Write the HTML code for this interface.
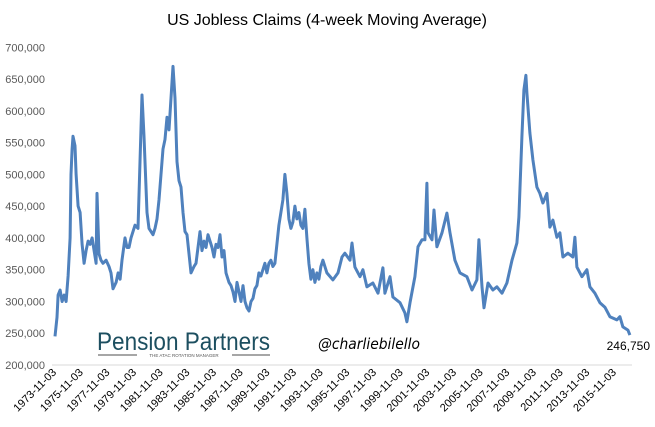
<!DOCTYPE html>
<html><head><meta charset="utf-8"><style>
body{margin:0;background:#fff;}
svg{display:block;font-family:"Liberation Sans",sans-serif;}
</style></head><body>
<svg width="655" height="427">
<text x="327" y="25" text-anchor="middle" font-size="16" fill="#000">US Jobless Claims (4-week Moving Average)</text>
<g id="yaxis"></g>
<g id="xaxis"></g>
<line x1="52" x2="632" y1="365" y2="365" stroke="#d9d9d9" stroke-width="1"/>
<path id="series" fill="none" stroke="#4F81BD" stroke-width="3" stroke-linejoin="round"/>
<g>
<text x="97" y="350" font-size="25" fill="#1d4f60" textLength="173" lengthAdjust="spacingAndGlyphs">Pension Partners</text>
<line x1="98" x2="137" y1="355" y2="355" stroke="#888" stroke-width="1.5"/>
<line x1="232" x2="270" y1="355" y2="355" stroke="#888" stroke-width="1.5"/>
<text x="184" y="357" font-size="4.5" text-anchor="middle" fill="#555">THE ATAC ROTATION MANAGER</text>
</g>
<text x="318" y="349" font-size="15" font-style="italic" fill="#000" font-family="'DejaVu Sans',sans-serif" textLength="102" lengthAdjust="spacingAndGlyphs">@charliebilello</text>
<text x="650" y="350" font-size="12" text-anchor="end" fill="#000">246,750</text>
</svg>
<script>
const years=[1973.84,1973.99,1974.07,1974.22,1974.37,1974.52,1974.67,1974.82,1974.97,1975.04,1975.12,1975.19,1975.34,1975.42,1975.57,1975.72,1975.87,1976.02,1976.17,1976.32,1976.47,1976.62,1976.77,1976.92,1976.99,1977.14,1977.29,1977.44,1977.67,1977.89,1978.04,1978.19,1978.42,1978.57,1978.72,1978.87,1979.09,1979.24,1979.39,1979.54,1979.69,1979.84,1980.07,1980.22,1980.37,1980.52,1980.67,1980.74,1980.89,1981.04,1981.19,1981.34,1981.49,1981.64,1981.79,1981.94,1982.09,1982.24,1982.39,1982.54,1982.69,1982.84,1982.99,1983.14,1983.29,1983.44,1983.59,1983.74,1983.89,1984.04,1984.27,1984.42,1984.57,1984.72,1984.87,1985.02,1985.17,1985.32,1985.47,1985.62,1985.77,1985.92,1986.07,1986.22,1986.37,1986.52,1986.67,1986.89,1987.04,1987.19,1987.34,1987.49,1987.64,1987.79,1987.94,1988.09,1988.24,1988.39,1988.54,1988.69,1988.84,1988.99,1989.14,1989.29,1989.44,1989.59,1989.74,1989.89,1990.04,1990.19,1990.34,1990.49,1990.64,1990.79,1990.94,1991.09,1991.24,1991.39,1991.54,1991.69,1991.84,1991.99,1992.14,1992.29,1992.44,1992.59,1992.74,1992.89,1993.04,1993.19,1993.34,1993.49,1993.64,1993.79,1993.94,1994.24,1994.69,1995.07,1995.37,1995.59,1995.97,1996.12,1996.34,1996.72,1996.94,1997.24,1997.69,1998.07,1998.44,1998.59,1998.97,1999.19,1999.72,2000.09,2000.24,2000.47,2000.84,2001.07,2001.37,2001.59,2001.74,2001.82,2002.12,2002.27,2002.49,2002.87,2003.24,2003.47,2003.84,2004.22,2004.74,2005.12,2005.49,2005.64,2005.87,2006.02,2006.32,2006.69,2006.99,2007.37,2007.74,2008.12,2008.49,2008.64,2008.87,2009.02,2009.17,2009.24,2009.47,2009.69,2009.99,2010.22,2010.44,2010.74,2010.97,2011.19,2011.49,2011.72,2011.94,2012.32,2012.69,2012.84,2012.99,2013.37,2013.74,2013.97,2014.34,2014.72,2015.09,2015.47,2015.99,2016.22,2016.44,2016.82,2016.97];
const claims=[245,275,310,318,300,310,300,340,400,500,540,560,545,500,450,440,390,360,380,395,390,400,380,360,470,375,365,360,365,355,345,320,330,345,335,365,400,385,385,400,410,420,415,520,625,560,480,440,415,410,405,415,430,460,500,540,555,590,570,620,670,620,520,490,480,440,410,405,375,345,355,360,385,410,380,395,385,405,395,385,370,390,385,405,370,380,345,330,325,315,300,330,315,300,325,300,290,285,300,305,320,325,345,340,350,360,345,360,365,355,360,390,420,440,460,500,470,430,415,425,450,430,440,420,415,445,400,360,335,350,330,345,335,355,365,345,334,345,370,376,365,392,354,339,350,323,329,313,353,313,339,307,298,282,268,298,339,386,397,397,486,408,397,444,386,408,439,408,365,345,339,318,334,397,323,290,329,318,323,313,329,365,392,433,559,633,656,628,565,523,480,470,455,470,417,428,401,408,370,376,370,401,354,339,350,323,313,298,291,276,271,276,260,255,247];
const yTicks=[200000,250000,300000,350000,400000,450000,500000,550000,600000,650000,700000];
const yTickLabels=["200,000","250,000","300,000","350,000","400,000","450,000","500,000","550,000","600,000","650,000","700,000"];
const xTickYears=[1973,1975,1977,1979,1981,1983,1985,1987,1989,1991,1993,1995,1997,1999,2001,2003,2005,2007,2009,2011,2013,2015];
const xTickLabels=xTickYears.map(y=>y+"-11-03");
const NS="http://www.w3.org/2000/svg";
function xs(yr){return 55+(yr-1973.84)*13.33;}
function ys(v){return 365-(v-200000)*0.0006354;}
const ya=document.getElementById('yaxis');
yTicks.forEach((t,i)=>{
 const el=document.createElementNS(NS,'text');
 el.setAttribute('x',45);el.setAttribute('y',ys(t)+4);
 el.setAttribute('text-anchor','end');el.setAttribute('font-size','11');el.setAttribute('fill','#595959');
 el.textContent=yTickLabels[i];
 
 
 ya.appendChild(el);
});
const xa=document.getElementById('xaxis');
xTickYears.forEach((yr,i)=>{
 const x=xs(yr+0.84)+2,y=373;
 const el=document.createElementNS(NS,'text');
 el.setAttribute('x',x);el.setAttribute('y',y);
 el.setAttribute('text-anchor','end');el.setAttribute('font-size','11');el.setAttribute('fill','#000');
 el.setAttribute('transform','rotate(-45 '+x+' '+y+')');
 el.textContent=xTickLabels[i];
 
 
 xa.appendChild(el);
});
let d='';
years.forEach((yr,i)=>{d+=(i?'L':'M')+xs(yr).toFixed(1)+','+ys(claims[i]*1000).toFixed(1);});
document.getElementById('series').setAttribute('d',d);
</script>
</body></html>
